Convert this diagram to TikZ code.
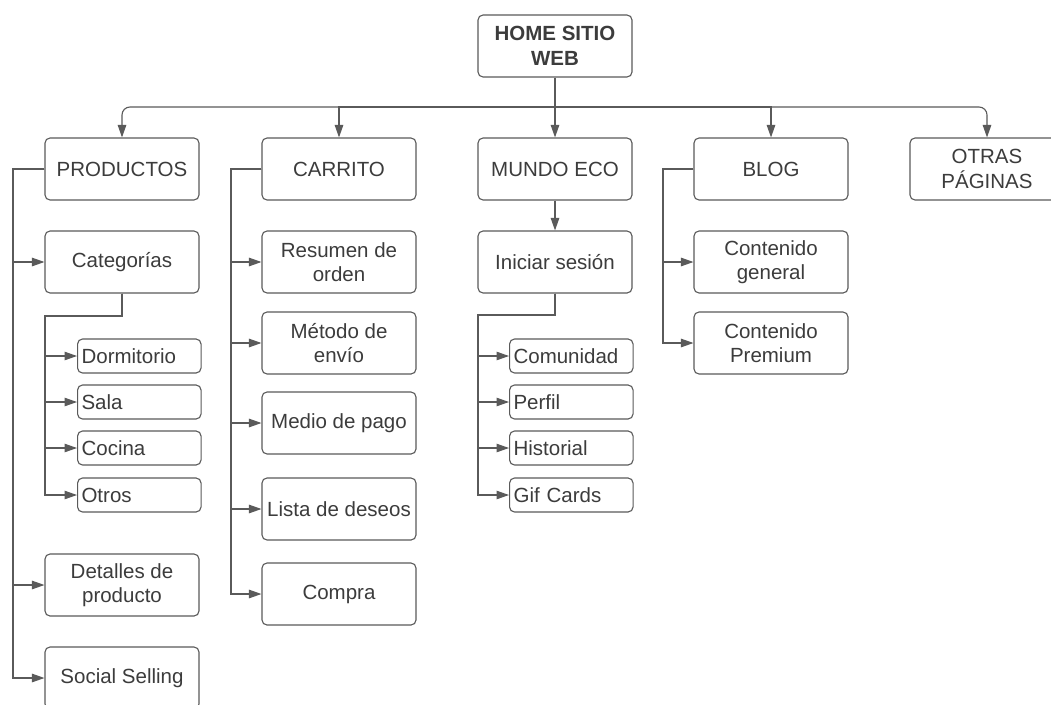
\documentclass[tikz,border=0pt]{standalone}
\usepackage{fontspec}
\setmainfont{Liberation Sans}
\usetikzlibrary{arrows.meta}
\definecolor{linegray}{HTML}{5A5A5A}
\definecolor{textgray}{HTML}{3C3C3C}
\begin{document}
\begin{tikzpicture}[x=1pt, y=-1pt, font=\fontsize{20.5}{24.5}\selectfont, line join=miter,
	box/.style={draw=linegray, line width=1.1pt, rounded corners=5pt, text=textgray, minimum width=154pt, minimum height=62pt, align=center, inner sep=2pt},
	subbox/.style={draw=linegray, line width=1.1pt, rounded corners=5pt, text=textgray, minimum height=34pt, text width=115.5pt, align=left, inner xsep=4pt, inner ysep=0pt, anchor=west},
	link/.style={draw=linegray, line width=1.1pt, -{Triangle[length=12.5pt, width=8.5pt]}}]
	
	\fill[white] (0,0) rectangle (1051,704);
	\useasboundingbox (0,0) rectangle (1051,704);
	
	% Inicio
	\node[box, font=\fontsize{20.5}{24.5}\selectfont\bfseries] (home) at (555,46) {HOME SITIO\\WEB};
	\node[box] (prod) at (122,169) {PRODUCTOS};
	\node[box] (carr) at (339,169) {CARRITO};
	\node[box] (mundo) at (555,169) {MUNDO ECO};
	\node[box] (blog) at (771,169) {BLOG};
	\node[box] (otras) at (987,169) {OTRAS\\PÁGINAS};
	\coordinate (bus) at (555,107);
	\draw[link] (home.south) -- (mundo.north);
	\draw[link, rounded corners=8pt] (bus) -| (prod.north);
	\draw[link] (bus) -| (carr.north);
	\draw[link] (bus) -| (blog.north);
	\draw[link, rounded corners=8pt] (bus) -| (otras.north);
	
	% Productos
	\node[box] (cat) at (122,262) {Categorías};
	\node[subbox] (dorm) at (77,356) {Dormitorio};
	\node[subbox] (sala) at (77,402) {Sala};
	\node[subbox] (coci) at (77,448) {Cocina};
	\node[subbox] (otro) at (77,495) {Otros};
	\node[box] (det) at (122,585) {Detalles de\\producto};
	\node[box] (soc) at (122,678) {Social Selling};
	\coordinate (ptop) at (13,169);
	\coordinate (csub) at (45,316);
	\draw[link] (prod.west) -- (ptop) |- (cat.west);
	\draw[link] (prod.west) -- (ptop) |- (det.west);
	\draw[link] (prod.west) -- (ptop) |- (soc.west);
	\draw[link] (cat.south) |- (csub) |- (dorm.west);
	\draw[link] (cat.south) |- (csub) |- (sala.west);
	\draw[link] (cat.south) |- (csub) |- (coci.west);
	\draw[link] (cat.south) |- (csub) |- (otro.west);
	
	% Carrito
	\node[box] (res) at (339,262) {Resumen de\\orden};
	\node[box] (met) at (339,343) {Método de\\envío};
	\node[box] (pago) at (339,423) {Medio de pago};
	\node[box] (lista) at (339,509) {Lista de deseos};
	\node[box] (comp) at (339,594) {Compra};
	\coordinate (ctop) at (231,169);
	\draw[link] (carr.west) -- (ctop) |- (res.west);
	\draw[link] (carr.west) -- (ctop) |- (met.west);
	\draw[link] (carr.west) -- (ctop) |- (pago.west);
	\draw[link] (carr.west) -- (ctop) |- (lista.west);
	\draw[link] (carr.west) -- (ctop) |- (comp.west);
	
	% Mundo eco
	\node[box] (ini) at (555,262) {Iniciar sesión};
	\node[subbox] (comu) at (509,356) {Comunidad};
	\node[subbox] (perf) at (509,402) {Perfil};
	\node[subbox] (hist) at (509,448) {Historial};
	\node[subbox] (gif) at (509,495) {Gif Cards};
	\coordinate (msub) at (478,315);
	\draw[link] (mundo.south) -- (ini.north);
	\draw[link] (ini.south) |- (msub) |- (comu.west);
	\draw[link] (ini.south) |- (msub) |- (perf.west);
	\draw[link] (ini.south) |- (msub) |- (hist.west);
	\draw[link] (ini.south) |- (msub) |- (gif.west);
	
	% Blog
	\node[box] (cgen) at (771,262) {Contenido\\general};
	\node[box] (cprem) at (771,343) {Contenido\\Premium};
	\coordinate (btop) at (663,169);
	\draw[link] (blog.west) -- (btop) |- (cgen.west);
	\draw[link] (blog.west) -- (btop) |- (cprem.west);
\end{tikzpicture}
\end{document}
